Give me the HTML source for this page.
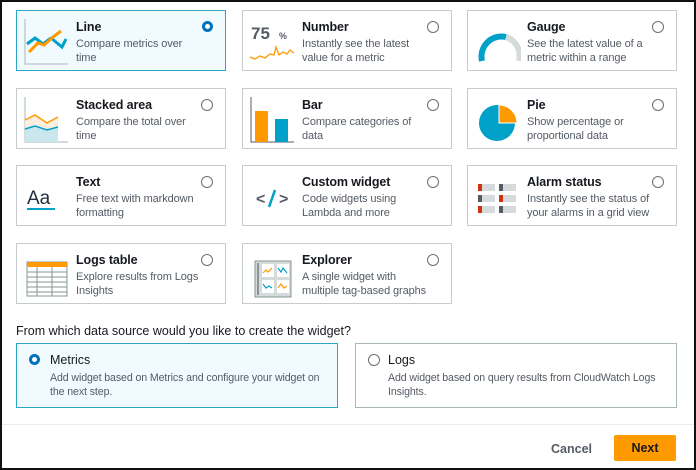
<!DOCTYPE html>
<html><head><style>
body{margin:0;width:696px;height:470px;background:#fff;font-family:"Liberation Sans",sans-serif;overflow:hidden;position:relative}
.frame{position:absolute;left:0;top:0;width:692px;height:466px;border:2px solid #111}
.card{position:absolute;width:208px;height:59px;border:1px solid #c6cbcd;background:#fff;box-sizing:content-box}
.card.sel{background:#f1faff;border-color:#2aa7c9}
.ic{position:absolute;left:7px;top:6px;width:46px;height:48px}
.t{position:absolute;left:59px;top:9px;font-weight:bold;font-size:12.5px;color:#16191f;letter-spacing:-0.1px}
.d{position:absolute;left:59px;top:26px;font-size:11px;line-height:14px;color:#545b64;white-space:nowrap;letter-spacing:-0.1px}
.r{position:absolute;right:12px;top:10px;width:10px;height:10px;border:1px solid #687078;border-radius:50%}
.r.on{border:3.5px solid #0073bb;width:5px;height:5px;background:#fff}
.box{position:absolute;height:63px;border:1px solid #aab7b8;background:#fff}
.box.sel{background:#f1faff;border-color:#2aa7c9}
.bd{position:absolute;top:27px;font-size:10.6px;line-height:14px;color:#545b64;white-space:nowrap;letter-spacing:-0.1px}
</style></head><body>
<div class="frame"></div>

<div class="card sel" style="left:16px;top:10px">
<svg class="ic" viewBox="0 0 46 48"><path d="M1 2V47H44" stroke="#aab7b8" stroke-width="1" fill="none"/><polyline points="3,27 11,21 19,27 27,21" stroke="#00a1c9" stroke-width="3" fill="none"/><polyline points="27,21 38,30 42,22" stroke="#00a1c9" stroke-width="3" fill="none"/><polyline points="5,35 14,26 20,28 29,20 37,14" stroke="#ff9900" stroke-width="3" fill="none"/></svg>
<div class="t">Line</div><div class="d">Compare metrics over<br>time</div><div class="r on"></div></div>

<div class="card" style="left:242px;top:10px">
<svg class="ic" viewBox="0 0 46 48"><text x="1" y="22" font-family="Liberation Sans" font-weight="bold" font-size="17" fill="#545b64">75</text><text x="29" y="22" font-family="Liberation Sans" font-weight="bold" font-size="9" fill="#545b64">%</text><polyline points="0,40 5,42 10,39 15,41 20,37 24,38 26,30 29,38 33,35 37,37 40,33 44,36" stroke="#ff9900" stroke-width="1.3" fill="none"/></svg>
<div class="t">Number</div><div class="d">Instantly see the latest<br>value for a metric</div><div class="r"></div></div>

<div class="card" style="left:467px;top:10px">
<svg class="ic" viewBox="0 0 46 48"><path d="M7 44A20 20 0 0 1 31 20" stroke="#00a1c9" stroke-width="6" fill="none"/><path d="M31 20A20 20 0 0 1 44 44" stroke="#d5dbdb" stroke-width="6" fill="none"/></svg>
<div class="t">Gauge</div><div class="d">See the latest value of a<br>metric within a range</div><div class="r"></div></div>

<div class="card" style="left:16px;top:88px">
<svg class="ic" viewBox="0 0 46 48"><path d="M1 2V47H44" stroke="#aab7b8" fill="none"/><polygon points="1,25 11,20 23,28 34,22 34,47 1,47" fill="#fdeee0"/><polygon points="1,34 11,31 23,35 34,32 34,47 1,47" fill="#cbe7ee"/><polyline points="1,25 11,20 23,28 34,22" stroke="#ff9900" stroke-width="1.5" fill="none"/><polyline points="1,34 11,31 23,35 34,32" stroke="#00a1c9" stroke-width="1.5" fill="none"/></svg>
<div class="t">Stacked area</div><div class="d">Compare the total over<br>time</div><div class="r"></div></div>

<div class="card" style="left:242px;top:88px">
<svg class="ic" viewBox="0 0 46 48"><path d="M1 2V47H44" stroke="#545b64" fill="none"/><rect x="5" y="16" width="13" height="31" fill="#ff9900"/><rect x="25" y="24" width="13" height="23" fill="#00a1c9"/></svg>
<div class="t">Bar</div><div class="d">Compare categories of<br>data</div><div class="r"></div></div>

<div class="card" style="left:467px;top:88px">
<svg class="ic" viewBox="0 0 46 48"><circle cx="22" cy="28" r="18" fill="#00a1c9"/><path d="M24 10A18 18 0 0 1 42 28H24Z" fill="#ff9900" stroke="#fff" stroke-width="1"/></svg>
<div class="t">Pie</div><div class="d">Show percentage or<br>proportional data</div><div class="r"></div></div>

<div class="card" style="left:16px;top:165px">
<svg class="ic" viewBox="0 0 46 48"><text x="3" y="32" font-family="Liberation Sans" font-size="19" fill="#232f3e">Aa</text><rect x="3" y="36" width="28" height="2" fill="#00a1c9"/></svg>
<div class="t">Text</div><div class="d">Free text with markdown<br>formatting</div><div class="r"></div></div>

<div class="card" style="left:242px;top:165px">
<svg class="ic" viewBox="0 0 46 48"><text x="6" y="32" font-family="Liberation Sans" font-weight="bold" font-size="16" fill="#545b64">&lt;</text><text x="29" y="32" font-family="Liberation Sans" font-weight="bold" font-size="16" fill="#545b64">&gt;</text><path d="M25 18L19 35" stroke="#00a1c9" stroke-width="2.5"/></svg>
<div class="t">Custom widget</div><div class="d">Code widgets using<br>Lambda and more</div><div class="r"></div></div>

<div class="card" style="left:467px;top:165px">
<svg class="ic" viewBox="0 0 46 48"><g fill="#d5dbdb"><rect x="3" y="12" width="17" height="7"/><rect x="24" y="12" width="17" height="7"/><rect x="3" y="23" width="17" height="7"/><rect x="24" y="23" width="17" height="7"/><rect x="3" y="34" width="17" height="7"/><rect x="24" y="34" width="17" height="7"/></g><rect x="3" y="12" width="4" height="7" fill="#d13212"/><rect x="24" y="12" width="4" height="7" fill="#545b64"/><rect x="3" y="23" width="4" height="7" fill="#545b64"/><rect x="24" y="23" width="4" height="7" fill="#d13212"/><rect x="3" y="34" width="4" height="7" fill="#d13212"/><rect x="24" y="34" width="4" height="7" fill="#545b64"/></svg>
<div class="t">Alarm status</div><div class="d">Instantly see the status of<br>your alarms in a grid view</div><div class="r"></div></div>

<div class="card" style="left:16px;top:243px">
<svg class="ic" viewBox="0 0 46 48"><rect x="3" y="12" width="40" height="34" fill="#fff" stroke="#879596"/><rect x="3" y="12" width="40" height="5" fill="#ff9900"/><g stroke="#879596" stroke-width="1"><path d="M3 22H43M3 27H43M3 32H43M3 37H43M3 42H43M13 17V46M28 17V46"/></g></svg>
<div class="t">Logs table</div><div class="d">Explore results from Logs<br>Insights</div><div class="r"></div></div>

<div class="card" style="left:242px;top:243px">
<svg class="ic" viewBox="0 0 46 48"><rect x="5" y="11" width="36" height="36" fill="#d5dbdb" stroke="#879596"/><rect x="7" y="13" width="2" height="32" fill="#879596"/><rect x="12" y="14" width="12" height="13" fill="#fff"/><rect x="27" y="14" width="12" height="13" fill="#fff"/><rect x="12" y="30" width="12" height="13" fill="#fff"/><rect x="27" y="30" width="12" height="13" fill="#fff"/><polyline points="13,23 16,20 18,22 22,18" stroke="#ff9900" fill="none" stroke-width="1.2"/><polyline points="28,18 31,22 33,18 37,23" stroke="#00a1c9" fill="none" stroke-width="1.2"/><polyline points="13,34 16,38 19,36 22,38" stroke="#00a1c9" fill="none" stroke-width="1.2"/><polyline points="28,38 31,34 34,38 37,36" stroke="#ff9900" fill="none" stroke-width="1.2"/></svg>
<div class="t">Explorer</div><div class="d">A single widget with<br>multiple tag-based graphs</div><div class="r"></div></div>

<div style="position:absolute;left:16px;top:324px;font-size:12.5px;color:#16191f">From which data source would you like to create the widget?</div>

<div class="box sel" style="left:16px;top:343px;width:320px">
<div class="r on" style="left:12px;top:10px"></div>
<div style="position:absolute;left:33px;top:9px;font-size:12.5px;color:#16191f">Metrics</div>
<div class="bd" style="left:33px">Add widget based on Metrics and configure your widget on<br>the next step.</div></div>

<div class="box" style="left:355px;top:343px;width:320px">
<div class="r" style="left:12px;top:10px;right:auto"></div>
<div style="position:absolute;left:32px;top:9px;font-size:12.5px;color:#16191f">Logs</div>
<div class="bd" style="left:32px">Add widget based on query results from CloudWatch Logs<br>Insights.</div></div>

<div style="position:absolute;left:2px;top:424px;width:692px;height:1px;background:#eaeded"></div>
<div style="position:absolute;left:551px;top:442px;font-size:12.5px;font-weight:bold;color:#545b64">Cancel</div>
<div style="position:absolute;left:614px;top:435px;width:62px;height:26px;background:#ff9900;border-radius:2px;font-size:12.5px;font-weight:bold;color:#16191f;text-align:center;line-height:26px">Next</div>
</body></html>
